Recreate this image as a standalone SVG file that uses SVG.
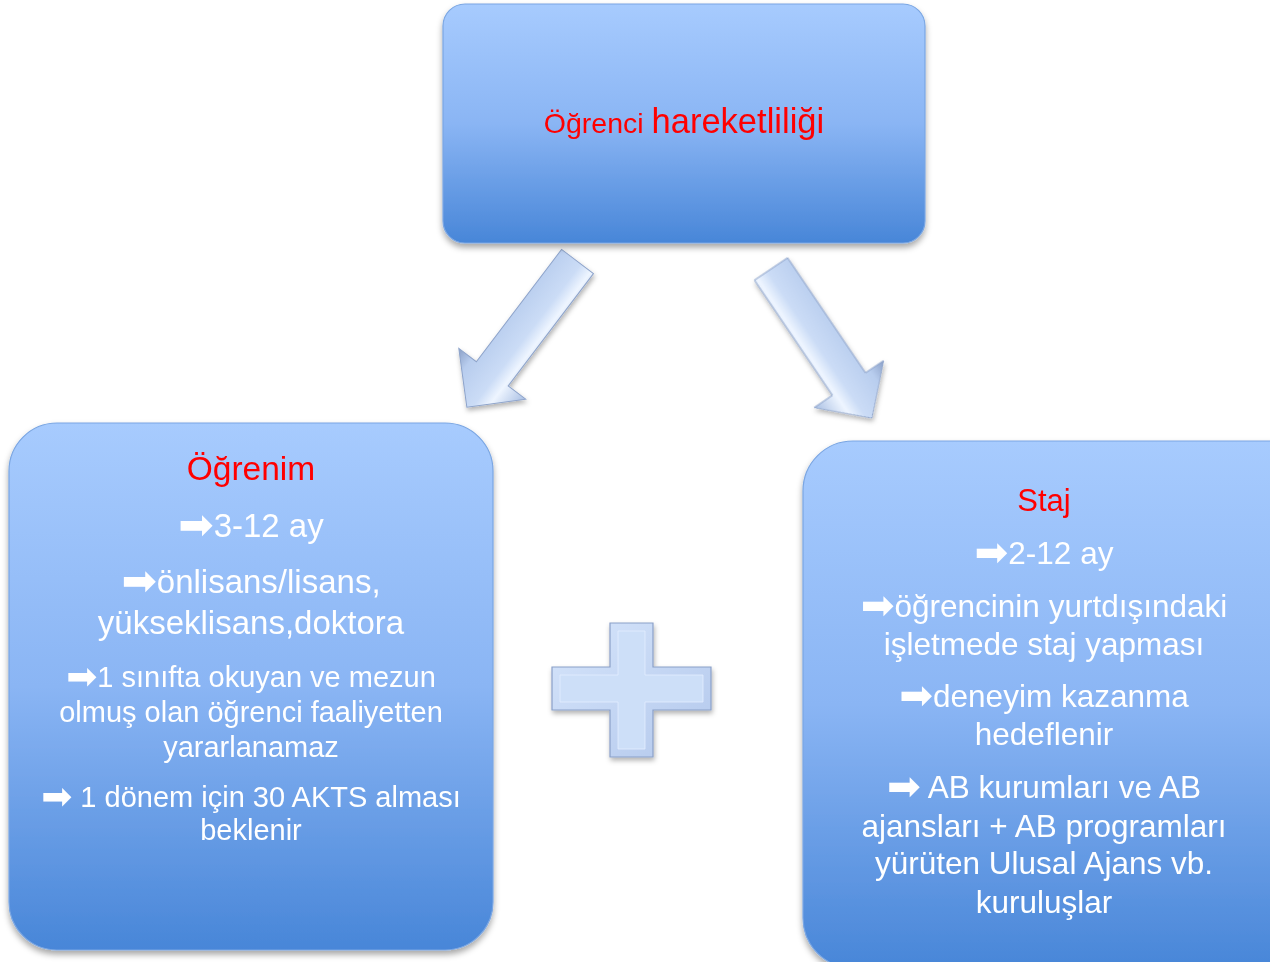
<svg xmlns="http://www.w3.org/2000/svg" width="1270" height="962" viewBox="0 0 1270 962">
<defs>
<linearGradient id="boxg" x1="0" y1="0" x2="0" y2="1">
<stop offset="0" stop-color="#a7cbfe"/>
<stop offset="0.5" stop-color="#8ab5f4"/>
<stop offset="1" stop-color="#4886d8"/>
</linearGradient>
<linearGradient id="arrg" gradientUnits="userSpaceOnUse" x1="0" y1="-42" x2="0" y2="42">
<stop offset="0" stop-color="#a9bfe3"/>
<stop offset="0.3" stop-color="#eef5ff"/>
<stop offset="0.45" stop-color="#cbdcf6"/>
<stop offset="0.8" stop-color="#b8cdee"/>
<stop offset="1" stop-color="#8a9fc6"/>
</linearGradient>
<linearGradient id="plusg" x1="0" y1="0" x2="1" y2="1">
<stop offset="0" stop-color="#d6e5fb"/>
<stop offset="1" stop-color="#b3c8ec"/>
</linearGradient>
<filter id="sh" x="-10%" y="-10%" width="120%" height="125%">
<feDropShadow dx="0" dy="4" stdDeviation="3" flood-color="#000" flood-opacity="0.35"/>
</filter>
<filter id="sh2" x="-20%" y="-20%" width="140%" height="140%">
<feDropShadow dx="1" dy="3" stdDeviation="2.5" flood-color="#000" flood-opacity="0.3"/>
</filter>
</defs>
<style>
.box{fill:url(#boxg);stroke:#7aa6e3;stroke-width:1.2}
.t{font-family:"Liberation Sans",Arial,sans-serif;text-anchor:middle;fill:#ffffff}
.red{fill:#ff0000}
.ar{font-family:"DejaVu Sans",sans-serif;font-size:128%;baseline-shift:-2px}
.arrow{fill:url(#arrg);stroke:#8ea4cb;stroke-width:1}
</style>

<g id="connectors">
<g filter="url(#sh2)">
<polygon class="arrow" transform="translate(577.5,261.5) rotate(127.2)" points="0,-20 141,-20 141,-42 183,0 141,42 141,20 0,20"/>
<polygon class="arrow" transform="translate(771,269) rotate(55.9) scale(1,-1)" points="0,-20 139,-20 139,-42 180,0 139,42 139,20 0,20"/>
</g>
</g>

<g id="plus" filter="url(#sh2)">
<path d="M610,623 H653 V667 H711 V710 H653 V757 H610 V710 H552 V667 H610 Z" fill="url(#plusg)" stroke="#8aa0c8" stroke-width="1.2"/>
<path d="M618,631 H645 V675 H703 V702 H645 V749 H618 V702 H560 V675 H618 Z" fill="#cddff8" stroke="#e3eeff" stroke-width="0.8"/>
</g>

<g id="top-node">
<rect class="box" x="443" y="4" width="482" height="239" rx="22" filter="url(#sh)"/>
<text class="t red" x="684" y="133"><tspan font-size="28.5">Öğrenci </tspan><tspan font-size="34.5">hareketliliği</tspan></text>
</g>

<g id="left-node">
<rect class="box" x="9" y="423" width="484" height="527" rx="48" filter="url(#sh)"/>
<text class="t red" x="251" y="480" font-size="33.5">Öğrenim</text>
<text class="t" x="251" y="537" font-size="33"><tspan class="ar">➡</tspan>3-12 ay</text>
<text class="t" x="251" y="593" font-size="33"><tspan class="ar">➡</tspan>önlisans/lisans,</text>
<text class="t" x="251" y="634" font-size="33">yükseklisans,doktora</text>
<text class="t" x="251" y="687" font-size="29"><tspan class="ar">➡</tspan>1 sınıfta okuyan ve mezun</text>
<text class="t" x="251" y="722" font-size="29">olmuş olan öğrenci faaliyetten</text>
<text class="t" x="251" y="757" font-size="29">yararlanamaz</text>
<text class="t" x="251" y="807" font-size="29"><tspan class="ar">➡</tspan> 1 dönem için 30 AKTS alması</text>
<text class="t" x="251" y="840" font-size="29">beklenir</text>
</g>

<g id="right-node">
<rect class="box" x="803" y="441" width="520" height="527" rx="50" filter="url(#sh)"/>
<text class="t red" x="1044" y="511" font-size="31">Staj</text>
<text class="t" x="1044" y="564" font-size="31.5"><tspan class="ar">➡</tspan>2-12 ay</text>
<text class="t" x="1044" y="617" font-size="31.5"><tspan class="ar">➡</tspan>öğrencinin yurtdışındaki</text>
<text class="t" x="1044" y="655" font-size="31.5">işletmede staj yapması</text>
<text class="t" x="1044" y="707" font-size="31.5"><tspan class="ar">➡</tspan>deneyim kazanma</text>
<text class="t" x="1044" y="745" font-size="31.5">hedeflenir</text>
<text class="t" x="1044" y="798" font-size="31.5"><tspan class="ar">➡</tspan> AB kurumları ve AB</text>
<text class="t" x="1044" y="837" font-size="31.5">ajansları + AB programları</text>
<text class="t" x="1044" y="874" font-size="31.5">yürüten Ulusal Ajans vb.</text>
<text class="t" x="1044" y="913" font-size="31.5">kuruluşlar</text>
</g>
</svg>
